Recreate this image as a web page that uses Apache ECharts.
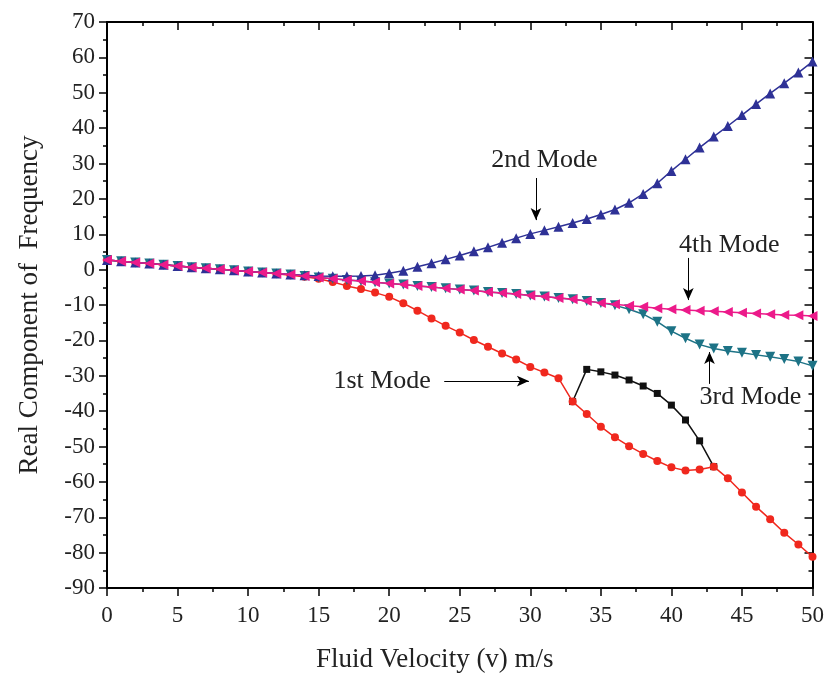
<!DOCTYPE html>
<html>
<head>
<meta charset="utf-8">
<script src="https://cdn.jsdelivr.net/npm/echarts@6/dist/echarts.min.js"></script>
<style>html,body{margin:0;padding:0;background:#fff;}#c{width:827px;height:679px;}</style>
</head>
<body>
<div id="c"></div>
<script>
// Fluid velocity (m/s), one point per 1 m/s
const velocity = [0,1,2,3,4,5,6,7,8,9,10,11,12,13,14,15,16,17,18,19,20,21,22,23,24,25,26,27,28,29,30,31,32,33,34,35,36,37,38,39,40,41,42,43,44,45,46,47,48,49,50];
const mode1 = [2.7,2.4,2.0,1.7,1.4,1.0,0.7,0.4,0.1,-0.2,-0.5,-0.8,-1.2,-1.6,-2.0,-2.6,-3.5,-4.6,-5.5,-6.5,-7.7,-9.5,-11.6,-13.8,-15.9,-17.8,-19.9,-21.8,-23.7,-25.4,-27.5,-29.1,-30.7,-37.3,-40.8,-44.4,-47.4,-49.9,-52.1,-54.1,-55.9,-56.8,-56.5,-55.7,-59.0,-63.0,-67.0,-70.6,-74.4,-77.7,-81.2];
const mode2 = [2.7,2.4,2.0,1.7,1.4,1.0,0.7,0.4,0.1,-0.2,-0.5,-0.8,-1.1,-1.4,-1.6,-1.8,-1.9,-1.9,-1.8,-1.6,-1.0,-0.3,0.8,1.8,2.9,4.0,5.2,6.3,7.6,8.9,10.1,11.1,12.1,13.2,14.3,15.6,17.0,18.9,21.4,24.4,27.9,31.2,34.5,37.6,40.6,43.7,46.8,49.8,52.7,55.7,58.8];
const mode3 = [2.7,2.4,2.0,1.7,1.4,1.0,0.7,0.4,0.1,-0.2,-0.5,-0.8,-1.1,-1.4,-1.8,-2.2,-2.6,-2.9,-3.2,-3.6,-3.9,-4.2,-4.6,-4.9,-5.3,-5.6,-5.9,-6.3,-6.6,-6.9,-7.3,-7.6,-8.0,-8.4,-8.9,-9.4,-10.1,-11.2,-12.6,-14.7,-17.4,-19.4,-21.2,-22.3,-23.0,-23.5,-24.1,-24.6,-25.3,-26.0,-27.2];
const mode4 = [2.7,2.4,2.0,1.7,1.4,1.0,0.7,0.4,0.1,-0.2,-0.5,-0.8,-1.1,-1.4,-1.8,-2.2,-2.6,-2.9,-3.2,-3.6,-3.9,-4.2,-4.6,-4.9,-5.3,-5.6,-5.9,-6.3,-6.6,-6.9,-7.3,-7.6,-8.0,-8.4,-8.9,-9.4,-9.8,-10.2,-10.5,-10.9,-11.2,-11.4,-11.6,-11.8,-12.0,-12.2,-12.4,-12.6,-12.8,-12.9,-13.1];
// branch of the 1st mode between 33 and 43 m/s
const branchVelocity = [33,34,35,36,37,38,39,40,41,42,43];
const branchValues = [-37.3,-28.2,-28.9,-29.8,-31.2,-32.9,-35.0,-38.3,-42.5,-48.4,-55.7];

// annotations: label text position and arrow (data coordinates)
const annotations = [
  {text:'2nd Mode', at:[31.0,31.0], from:[30.4,25.9], to:[30.4,14.0]},
  {text:'4th Mode', at:[44.1,7.0], from:[41.2,3.3], to:[41.2,-8.6]},
  {text:'3rd Mode', at:[45.6,-36.0], from:[42.7,-32.3], to:[42.7,-23.3]},
  {text:'1st Mode', at:[19.5,-31.5], from:[23.9,-31.5], to:[29.9,-31.5]}
];

const zip = (xs, ys) => xs.map((x,i)=>[x, ys[i]]);
const FONT = 'Liberation Serif';

const chart = echarts.init(document.getElementById('c'));

const axisCommon = {
  type:'value', min:0, max:50, interval:5,
  axisLine:{show:true, onZero:false, lineStyle:{color:'#000', width:2}},
  splitLine:{show:false},
  minorTick:{show:true, splitNumber:2, length:4, lineStyle:{color:'#000', width:1.5}},
  axisTick:{show:true, length:8, lineStyle:{color:'#000', width:1.5}}
};
const yCommon = {
  type:'value', min:-90, max:70, interval:10,
  axisLine:{show:true, onZero:false, lineStyle:{color:'#000', width:2}},
  splitLine:{show:false},
  minorTick:{show:true, splitNumber:2, length:4, lineStyle:{color:'#000', width:1.5}},
  axisTick:{show:true, length:8, lineStyle:{color:'#000', width:1.5}}
};

const markLineData = annotations.map(a => [
  {coord:a.from, symbol:'none'},
  {coord:a.to, symbol:'arrow'}
]);

chart.setOption({
  animation:false,
  backgroundColor:'#fff',
  grid:{left:107, right:13, top:22, bottom:91},
  xAxis:[
    Object.assign({}, axisCommon, {
      position:'bottom',
      name:'Fluid Velocity (v) m/s', nameLocation:'middle', nameGap:58,
      nameTextStyle:{fontFamily:FONT, fontSize:27, color:'#222', padding:[0,50,0,0]},
      axisLabel:{fontFamily:FONT, fontSize:23, color:'#222', margin:16}
    }),
    Object.assign({}, axisCommon, {
      position:'top',
      axisTick:Object.assign({}, axisCommon.axisTick, {inside:true}),
      axisLabel:{show:false}
    })
  ],
  yAxis:[
    Object.assign({}, yCommon, {
      position:'left',
      name:'Real Component of  Frequency', nameLocation:'middle', nameGap:64,
      nameTextStyle:{fontFamily:FONT, fontSize:27, color:'#222'},
      axisLabel:{fontFamily:FONT, fontSize:23, color:'#222', margin:12}
    }),
    Object.assign({}, yCommon, {
      position:'right',
      axisTick:Object.assign({}, yCommon.axisTick, {inside:true}),
      axisLabel:{show:false}
    })
  ],
  series:[
    {
      name:'branch', type:'line', data:zip(branchVelocity, branchValues),
      symbol:'rect', symbolSize:7, showAllSymbol:true,
      lineStyle:{color:'#111', width:1.5}, itemStyle:{color:'#111'}, z:2
    },
    {
      name:'1st Mode', type:'line', data:zip(velocity, mode1),
      symbol:'circle', symbolSize:8, showAllSymbol:true,
      lineStyle:{color:'#f0281e', width:1.5}, itemStyle:{color:'#f0281e'}, z:3
    },
    {
      name:'3rd Mode', type:'line', data:zip(velocity, mode3),
      symbol:'triangle', symbolRotate:180, symbolSize:10, showAllSymbol:true,
      lineStyle:{color:'#1d7386', width:1.5}, itemStyle:{color:'#1d7386'}, z:4
    },
    {
      name:'2nd Mode', type:'line', data:zip(velocity, mode2),
      symbol:'triangle', symbolSize:10, showAllSymbol:true,
      lineStyle:{color:'#2e3196', width:1.5}, itemStyle:{color:'#2e3196'}, z:5
    },
    {
      name:'4th Mode', type:'line', data:zip(velocity, mode4),
      symbol:'triangle', symbolRotate:90, symbolSize:10, showAllSymbol:true,
      lineStyle:{color:'#ec1a8a', width:1.5}, itemStyle:{color:'#ec1a8a'}, z:6,
      markLine:{
        silent:true, symbolSize:[8,12], precision:2,
        lineStyle:{color:'#000', width:1, type:'solid'},
        label:{show:false},
        data:markLineData
      },
      markPoint:{
        silent:true, symbol:'rect', symbolSize:1,
        itemStyle:{color:'rgba(0,0,0,0)'},
        label:{show:true, position:'inside', fontFamily:FONT, fontSize:26, color:'#222',
               formatter:p=>p.name},
        data:annotations.map(a=>({name:a.text, coord:a.at}))
      }
    }
  ]
});
</script>
</body>
</html>
